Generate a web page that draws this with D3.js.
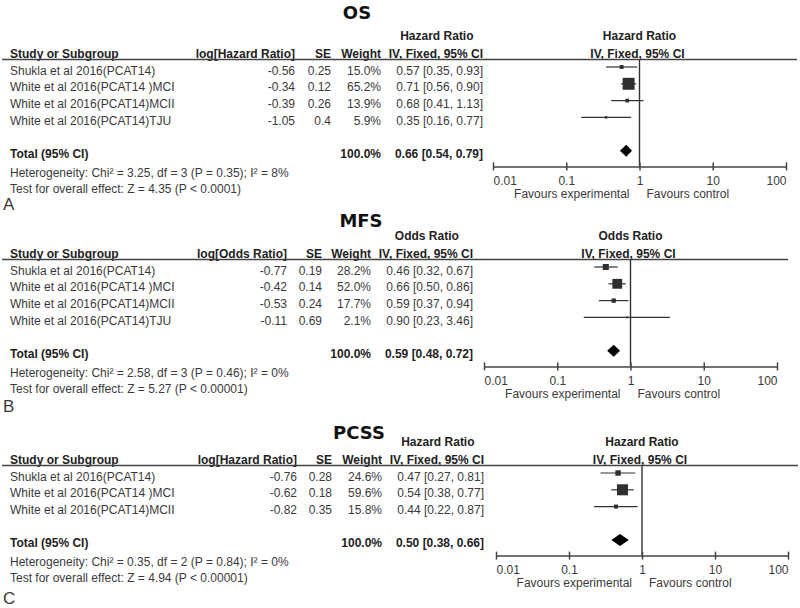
<!DOCTYPE html>
<html>
<head>
<meta charset="utf-8">
<script src="https://cdn.jsdelivr.net/npm/d3@7"></script>
<style>
  body { margin: 0; background: #fff; }
  svg { display: block; font-family: "Liberation Sans", Arial, sans-serif; }
</style>
</head>
<body>
<svg width="800" height="608"></svg>
<script>
// ---- data ----
var ticks = [0.01, 0.1, 1, 10, 100]
var tickLabels = ['0.01', '0.1', '1', '10', '100']

// A: OS
var studiesOS = ['Shukla et al 2016(PCAT14)', 'White et al 2016(PCAT14 )MCI', 'White et al 2016(PCAT14)MCII', 'White et al 2016(PCAT14)TJU']
var logOS = ['-0.56', '-0.34', '-0.39', '-1.05']
var seOS = ['0.25', '0.12', '0.26', '0.4']
var weightOS = [15.0, 65.2, 13.9, 5.9]
var estOS = [0.57, 0.71, 0.68, 0.35]
var loOS = [0.35, 0.56, 0.41, 0.16]
var hiOS = [0.93, 0.90, 1.13, 0.77]
var totalOS = [0.66, 0.54, 0.79]

// B: MFS
var studiesMFS = ['Shukla et al 2016(PCAT14)', 'White et al 2016(PCAT14 )MCI', 'White et al 2016(PCAT14)MCII', 'White et al 2016(PCAT14)TJU']
var logMFS = ['-0.77', '-0.42', '-0.53', '-0.11']
var seMFS = ['0.19', '0.14', '0.24', '0.69']
var weightMFS = [28.2, 52.0, 17.7, 2.1]
var estMFS = [0.46, 0.66, 0.59, 0.90]
var loMFS = [0.32, 0.50, 0.37, 0.23]
var hiMFS = [0.67, 0.86, 0.94, 3.46]
var totalMFS = [0.59, 0.48, 0.72]

// C: PCSS
var studiesPCSS = ['Shukla et al 2016(PCAT14)', 'White et al 2016(PCAT14 )MCI', 'White et al 2016(PCAT14)MCII']
var logPCSS = ['-0.76', '-0.62', '-0.82']
var sePCSS = ['0.28', '0.18', '0.35']
var weightPCSS = [24.6, 59.6, 15.8]
var estPCSS = [0.47, 0.54, 0.44]
var loPCSS = [0.27, 0.38, 0.22]
var hiPCSS = [0.81, 0.77, 0.87]
var totalPCSS = [0.50, 0.38, 0.66]

var panels = [
  {title: 'OS', letter: 'A', measure: 'Hazard Ratio', studies: studiesOS, logs: logOS, se: seOS,
   weight: weightOS, est: estOS, lo: loOS, hi: hiOS, total: totalOS,
   het: 'Heterogeneity: Chi\u00b2 = 3.25, df = 3 (P = 0.35); I\u00b2 = 8%',
   overall: 'Test for overall effect: Z = 4.35 (P < 0.0001)',
   top: 0, titleX: 357, titleY: 12, letterY: 210, ruleEnd: 797,
   cols: [295, 331, 381, 483], axis: [493, 786]},
  {title: 'MFS', letter: 'B', measure: 'Odds Ratio', studies: studiesMFS, logs: logMFS, se: seMFS,
   weight: weightMFS, est: estMFS, lo: loMFS, hi: hiMFS, total: totalMFS,
   het: 'Heterogeneity: Chi\u00b2 = 2.58, df = 3 (P = 0.46); I\u00b2 = 0%',
   overall: 'Test for overall effect: Z = 5.27 (P < 0.00001)',
   top: 200, titleX: 361, titleY: 220, letterY: 412, ruleEnd: 788,
   cols: [287, 322, 371, 473], axis: [484, 777]},
  {title: 'PCSS', letter: 'C', measure: 'Hazard Ratio', studies: studiesPCSS, logs: logPCSS, se: sePCSS,
   weight: weightPCSS, est: estPCSS, lo: loPCSS, hi: hiPCSS, total: totalPCSS,
   het: 'Heterogeneity: Chi\u00b2 = 0.35, df = 2 (P = 0.84); I\u00b2 = 0%',
   overall: 'Test for overall effect: Z = 4.94 (P < 0.00001)',
   top: 406, titleX: 359, titleY: 432, letterY: 604, ruleEnd: 798,
   cols: [297, 332, 382, 484], axis: [496, 788]}
]

var svg = d3.select('svg')
svg.append('rect').attr('width', 800).attr('height', 608).attr('fill', '#fff')

var ink = '#222', light = '#3a3a3a', rowStep = 16.8
var size = d3.scaleLinear().domain([0, 100]).range([1.5, 17.5])

function txt(g, x, y, s, opt) {
  opt = opt || {}
  return g.append('text')
    .attr('x', x).attr('y', y)
    .attr('text-anchor', opt.anchor || 'start')
    .attr('font-size', opt.size || 12)
    .attr('font-weight', opt.bold ? 'bold' : 'normal')
    .attr('fill', opt.bold ? ink : light)
    .text(s)
}

panels.forEach(function(p) {
  var g = svg.append('g').attr('transform', 'translate(0,' + p.top + ')')
  var x = d3.scaleLog().domain([0.01, 100]).range(p.axis)
  var c = p.cols
  var n = p.studies.length
  var rowY = function(i) { return 74.5 + i * rowStep }   // text baseline
  var totalY = rowY(n - 1) + 33.3
  var axisY = totalY + 8.2

  // title
  g.append('text').attr('x', p.titleX).attr('y', p.titleY - p.top + 6.5)
    .attr('text-anchor', 'middle').attr('font-family', '"DejaVu Sans", sans-serif')
    .attr('font-weight', 'bold').attr('font-size', 18).attr('fill', '#111')
    .text(p.title)

  // header rows
  var ivText = txt(g, c[3], 57.5, 'IV, Fixed, 95% CI', {anchor: 'end', bold: true})
  var ivW = ivText.node().getComputedTextLength()
  txt(g, c[3] - ivW / 2 + 1, 39.5, p.measure, {anchor: 'middle', bold: true})
  txt(g, 10, 57.5, 'Study or Subgroup', {bold: true})
  txt(g, c[0], 57.5, 'log[' + p.measure + ']', {anchor: 'end', bold: true})
  txt(g, c[1], 57.5, 'SE', {anchor: 'end', bold: true})
  txt(g, c[2], 57.5, 'Weight', {anchor: 'end', bold: true})
  txt(g, x(1), 39.5, p.measure, {anchor: 'middle', bold: true})
  txt(g, x(1) - 2, 57.5, 'IV, Fixed, 95% CI', {anchor: 'middle', bold: true})

  g.append('line').attr('x1', 2).attr('x2', p.ruleEnd).attr('y1', 59.5).attr('y2', 59.5)
    .attr('stroke', '#444').attr('stroke-width', 1.5)

  // study rows
  p.studies.forEach(function(s, i) {
    var y = rowY(i)
    txt(g, 10, y, s)
    txt(g, c[0], y, p.logs[i], {anchor: 'end'})
    txt(g, c[1], y, p.se[i], {anchor: 'end'})
    txt(g, c[2], y, p.weight[i].toFixed(1) + '%', {anchor: 'end'})
    txt(g, c[3], y, p.est[i].toFixed(2) + ' [' + p.lo[i].toFixed(2) + ', ' + p.hi[i].toFixed(2) + ']', {anchor: 'end'})

    var my = y - 7.5
    g.append('line').attr('x1', x(p.lo[i])).attr('x2', x(p.hi[i]))
      .attr('y1', my).attr('y2', my).attr('stroke', '#333').attr('stroke-width', 1.2)
    var w = size(p.weight[i])
    g.append('rect').attr('x', x(p.est[i]) - w / 2).attr('y', my - w / 2)
      .attr('width', w).attr('height', w).attr('fill', '#2f2f2f')
  })

  // total
  txt(g, 10, totalY, 'Total (95% CI)', {bold: true})
  txt(g, c[2], totalY, '100.0%', {anchor: 'end', bold: true})
  txt(g, c[3], totalY, p.total[0].toFixed(2) + ' [' + p.total[1].toFixed(2) + ', ' + p.total[2].toFixed(2) + ']', {anchor: 'end', bold: true})
  var dy = totalY - 7.5
  g.append('path')
    .attr('d', d3.line()([[x(p.total[1]), dy], [x(p.total[0]), dy - 6], [x(p.total[2]), dy], [x(p.total[0]), dy + 6]]) + 'Z')
    .attr('fill', '#000')

  txt(g, 10, totalY + 18.5, p.het)
  txt(g, 10, totalY + 35, p.overall)

  // null line
  g.append('line').attr('x1', x(1)).attr('x2', x(1)).attr('y1', 59.5).attr('y2', axisY)
    .attr('stroke', '#333').attr('stroke-width', 1.4)

  // axis
  var ax = g.append('g').attr('transform', 'translate(0,' + axisY + ')')
    .call(d3.axisBottom(x).tickValues(ticks).tickSize(4).tickSizeOuter(0)
      .tickFormat(function(d, i) { return tickLabels[i] }))
  ax.select('.domain').attr('stroke', '#444').attr('stroke-width', 1.5)
  ax.selectAll('.tick line').attr('y1', -4).attr('y2', 4).attr('stroke', '#444').attr('stroke-width', 1.5)
  ax.selectAll('.tick text').attr('y', 18.5).attr('dy', 0)
    .attr('font-size', 12).attr('font-family', '"Liberation Sans", Arial, sans-serif').attr('fill', light)
    .attr('text-anchor', function(d, i) { return i == 0 ? 'start' : (i == ticks.length - 1 ? 'end' : 'middle') })

  txt(g, x(1) - 10, totalY + 40, 'Favours experimental', {anchor: 'end'})
  txt(g, x(1) + 7, totalY + 40, 'Favours control')

  // panel letter
  svg.append('text').attr('x', 3).attr('y', p.letterY).attr('font-size', 17)
    .attr('fill', light).text(p.letter)
})
</script>
</body>
</html>
